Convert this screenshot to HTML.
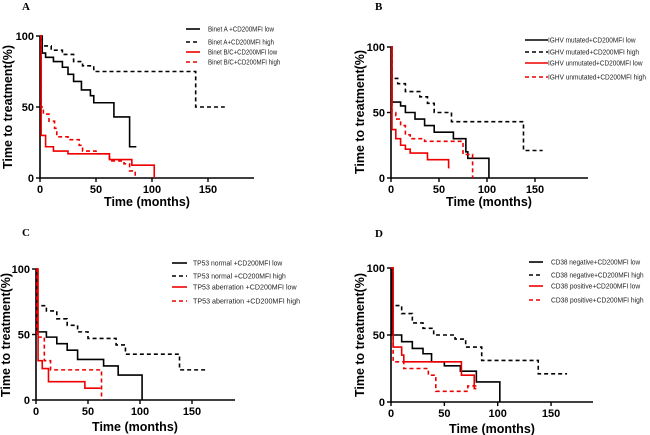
<!DOCTYPE html>
<html><head><meta charset="utf-8">
<style>
html,body{margin:0;padding:0;background:#fff;}
svg{display:block;font-family:"Liberation Sans",Arial,sans-serif;}
.tick{font-size:11px;font-weight:bold;}
.atitle{font-size:12.5px;font-weight:bold;}
.leg{font-size:7px;fill:#222;}
.plabel{font-family:"Liberation Serif",serif;font-size:11px;font-weight:bold;}
</style></head>
<body>
<svg id="chart" width="650" height="435" viewBox="0 0 650 435"></svg>
<script>
// ---- data (time in months, percent) ----
const xTicks = [0, 50, 100, 150];
const yTicks = [0, 50, 100];
const panelLabels = ["A", "B", "C", "D"];
const legendA = ["Binet A +CD200MFI low", "Binet A+CD200MFI high", "Binet B/C+CD200MFI low", "Binet B/C+CD200MFI high"];
const legendB = ["IGHV mutated+CD200MFI low", "IGHV mutated+CD200MFI high", "IGHV unmutated+CD200MFI low", "IGHV unmutated+CD200MFI high"];
const legendC = ["TP53 normal +CD200MFI low", "TP53 normal +CD200MFI high", "TP53 aberration +CD200MFI low", "TP53 aberration +CD200MFI high"];
const legendD = ["CD38 negative+CD200MFI low", "CD38 negative+CD200MFI high", "CD38 positive+CD200MFI low", "CD38 positive+CD200MFI high"];

const A1t = [0,2,5,12,20,25,30,37,45,48,66,80,86];
const A1v = [100,88,85,82,78,73,68,62,58,53,43,22,22];
const A2t = [0,1,10,20,30,38,48,139,165];
const A2v = [100,93,90,87,82,79,75,50,50];
const A3t = [0,1,5,12,25,62,82,102];
const A3v = [100,30,22,19,17,13,9,0];
const A4t = [0,1,3,8,13,15,25,35,38,50,62,75,80,85];
const A4v = [100,50,45,40,35,29,27,23,19,17,12,10,5,0];

const B1t = [0,1,10,15,25,35,45,65,78,80,102];
const B1v = [100,58,55,50,45,40,35,30,20,15,0];
const B2t = [0,1,7,15,30,38,45,63,138,158];
const B2v = [100,76,72,66,62,57,50,43,21,21];
const B3t = [0,1,5,10,15,20,38,60,61];
const B3v = [100,37,30,25,22,19,14,8,8];
const B4t = [0,1,5,10,15,20,35,75,85,85];
const B4v = [100,50,45,40,33,30,28,18,0,0];

const C1t = [0,1,10,20,30,40,65,79,102];
const C1v = [100,52,48,43,38,31,26,19,0];
const C2t = [0,1,10,20,30,40,50,77,86,138,165];
const C2v = [100,72,68,62,57,52,47,42,35,23,23];
const C3t = [0,2,6,12,47,62];
const C3v = [100,30,24,14,9,9];
const C4t = [0,1,8,14,63,63];
const C4v = [100,48,30,23,0,0];

const D1t = [0,1,10,20,30,38,50,65,80,102];
const D1v = [100,50,45,40,36,30,27,23,15,0];
const D2t = [0,1,10,20,30,40,60,70,85,138,165];
const D2v = [100,72,66,59,55,50,47,41,31,21,21];
const D3t = [0,2,10,12,66,78,80];
const D3v = [100,41,35,30,20,10,10];
const D4t = [0,2,12,35,42,72,80];
const D4v = [100,30,25,20,8,12,12];

// ---- layout (not data) ----
const panels = [
 {x0:40,x1:254,y100:36,y0:178,px:1.12,lab:[22,10],leg:legendA,legX:[186,200,208],legW:88,legY:[29,42,52,62],title:[147,206],ytitle:[12,107],
  series:[[A1t,A1v,'#000',0],[A2t,A2v,'#000',1],[A3t,A3v,'#e00',0],[A4t,A4v,'#e00',1]]},
 {x0:391,x1:588,y100:47,y0:178,px:0.96,lab:[375,10],leg:legendB,legX:[525,548,548],legW:98,legY:[40,52,63,77],title:[489,206],ytitle:[364,112],
  series:[[B1t,B1v,'#000',0],[B2t,B2v,'#000',1],[B3t,B3v,'#e00',0],[B4t,B4v,'#e00',1]]},
 {x0:36,x1:235,y100:269,y0:400,px:1.04,lab:[22,236],leg:legendC,legX:[172,187,193],legW:100,legY:[263,276,287,301],title:[135,431],ytitle:[10,335],
  series:[[C1t,C1v,'#000',0],[C2t,C2v,'#000',1],[C3t,C3v,'#e00',0],[C4t,C4v,'#e00',1]]},
 {x0:391,x1:593,y100:268,y0:402,px:1.067,lab:[375,237],leg:legendD,legX:[529,543,551],legW:96,legY:[262,275,286,300],title:[492,433],ytitle:[364,335],
  series:[[D1t,D1v,'#000',0],[D2t,D2v,'#000',1],[D3t,D3v,'#e00',0],[D4t,D4v,'#e00',1]]}
];
const NS='http://www.w3.org/2000/svg';
const svg=document.getElementById('chart');
function mk(tag,attrs,parent){const e=document.createElementNS(NS,tag);for(const k in attrs)e.setAttribute(k,attrs[k]);(parent||svg).appendChild(e);return e;}

panels.forEach((p,pi)=>{
  const g=mk('g',{});
  
  
  const sx=t=>p.x0+t*p.px;
  const sy=v=>p.y0-(p.y0-p.y100)*v/100;
  const lab=mk('text',{x:p.lab[0],y:p.lab[1],class:'plabel'},g);lab.textContent=panelLabels[pi];
  
  
  const ax=mk('path',{d:`M${p.x0},${p.y100} V${p.y0} H${p.x1}`,stroke:'#000','stroke-width':1.6,fill:'none'},g);
  
  
  yTicks.forEach(v=>{
    mk('line',{x1:p.x0-4,x2:p.x0,y1:sy(v),y2:sy(v),stroke:'#000','stroke-width':1.4},g);
    const t=mk('text',{x:p.x0-6,y:sy(v)+4,'text-anchor':'end',class:'tick'},g);t.textContent=v;
    
    
  });
  xTicks.forEach(v=>{
    mk('line',{x1:sx(v),x2:sx(v),y1:p.y0,y2:p.y0+4,stroke:'#000','stroke-width':1.4},g);
    const t=mk('text',{x:sx(v),y:p.y0+15,'text-anchor':'middle',class:'tick'},g);t.textContent=v;
    
    
  });
  const xt=mk('text',{x:p.title[0],y:p.title[1],'text-anchor':'middle',class:'atitle'},g);xt.textContent='Time (months)';
  
  
  const yt=mk('text',{x:p.ytitle[0],y:p.ytitle[1],'text-anchor':'middle',class:'atitle',transform:`rotate(-90 ${p.ytitle[0]} ${p.ytitle[1]})`},g);yt.textContent='Time to treatment(%)';
  
  
  p.series.forEach((s,si)=>{
    const [ts,vs,col,dash]=s;
    let d=`M${sx(ts[0])},${sy(vs[0])}`;
    for(let i=1;i<ts.length;i++){d+=` H${sx(ts[i])} V${sy(vs[i])}`;}
    const path=mk('path',{d:d,stroke:col,'stroke-width':1.6,fill:'none','stroke-dasharray':dash?'4,3':'none'},g);
    
    
    const ly=p.legY[si];
    const ll=mk('line',{x1:p.legX[0],x2:p.legX[1],y1:ly,y2:ly,stroke:col,'stroke-width':1.6,'stroke-dasharray':dash?'4,3':'none'},g);
    
    
    const lt=mk('text',{x:p.legX[2],y:ly+2.5,class:'leg',textLength:p.legW*p.leg[si].length/28,lengthAdjust:'spacingAndGlyphs'},g);lt.textContent=p.leg[si];
    
    
  });
});
</script>
</body></html>
